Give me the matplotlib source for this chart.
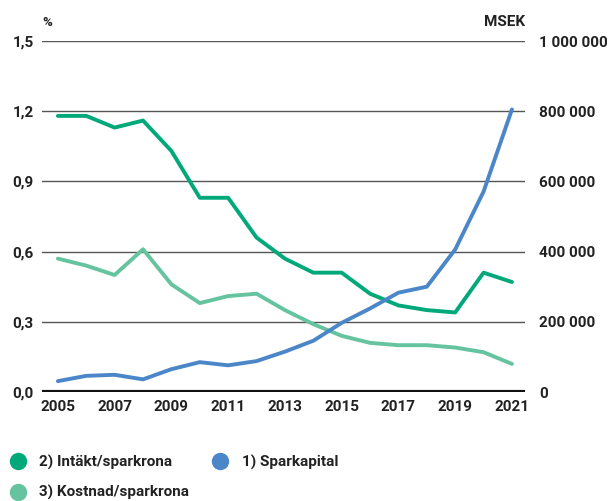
import numpy as np
import matplotlib.pyplot as plt
from matplotlib.lines import Line2D
from matplotlib.ticker import FuncFormatter

plt.rcParams['font.family'] = ['Roboto', 'DejaVu Sans']
plt.rcParams['font.weight'] = 'bold'

years = list(range(2005, 2022))
# 2) Intäkt/sparkrona (%)
intakt = [1.18, 1.18, 1.13, 1.16, 1.03, 0.83, 0.83, 0.66, 0.57, 0.51,
          0.51, 0.42, 0.37, 0.35, 0.34, 0.51, 0.47]
# 3) Kostnad/sparkrona (%)
kostnad = [0.57, 0.54, 0.50, 0.61, 0.46, 0.38, 0.41, 0.42, 0.35, 0.29,
           0.24, 0.21, 0.20, 0.20, 0.19, 0.17, 0.12]
# 1) Sparkapital (MSEK)
sparkapital = [31000, 46000, 49000, 36000, 65000, 85000, 76000, 88000, 115000,
               146000, 197000, 238000, 283000, 300000, 406000, 571000, 805000]

c_intakt = '#00a87a'
c_spar = '#4a86c8'
c_kost = '#66c3a0'
txt = '#222222'

fig = plt.figure(figsize=(6.08, 5.01), dpi=100)
ax = fig.add_axes([42 / 608, 109 / 501, 483 / 608, 351 / 501])
ax2 = ax.twinx()

for y in [0.3, 0.6, 0.9, 1.2, 1.5]:
    ax.axhline(y, color='#555555', lw=1.0, zorder=0)
ax.axhline(0, color='#111111', lw=3.0, zorder=5)

ax.plot(years, kostnad, color=c_kost, lw=2.8, solid_capstyle='round', zorder=3)
ax.plot(years, intakt, color=c_intakt, lw=2.8, solid_capstyle='round', zorder=4)
ax2.plot(years, sparkapital, color=c_spar, lw=2.8, solid_capstyle='round', zorder=3)

ax.set_xlim(2004.44, 2021.46)
ax.set_ylim(0, 1.5)
ax2.set_ylim(0, 1000000)
ax.set_yticks([0, 0.3, 0.6, 0.9, 1.2, 1.5])
ax.yaxis.set_major_formatter(FuncFormatter(lambda v, p: f'{v:.1f}'.replace('.', ',')))
ax2.set_yticks([0, 200000, 400000, 600000, 800000, 1000000])
ax2.yaxis.set_major_formatter(FuncFormatter(lambda v, p: f'{int(v):,}'.replace(',', ' ')))
ax.set_xticks(years[::2])

for a in (ax, ax2):
    for s in a.spines.values():
        s.set_visible(False)
    a.tick_params(length=0, labelsize=11, labelcolor=txt)
ax.tick_params(axis='y', pad=6)
ax2.tick_params(axis='y', pad=10)
ax.tick_params(axis='x', pad=6)

fig.text(47 / 608, 1 - 22 / 501, '%', fontsize=9.5, color=txt, ha='center', va='center')
fig.text(525 / 608, 1 - 22 / 501, 'MSEK', fontsize=11, color=txt, ha='right', va='center')

handles = [
    Line2D([], [], ls='none', marker='o', ms=11.5, color=c_intakt, label='2) Intäkt/sparkrona'),
    Line2D([], [], ls='none', marker='o', ms=11.5, color=c_kost, label='3) Kostnad/sparkrona'),
    Line2D([], [], ls='none', marker='o', ms=11.5, color=c_spar, label='1) Sparkapital'),
]
fig.legend(handles=handles, ncol=2, loc='upper left', bbox_to_anchor=(4 / 608, 1 - 449 / 501),
           frameon=False, fontsize=11, labelcolor=txt, handletextpad=0.9,
           labelspacing=1.0, columnspacing=1.55, handlelength=1.0, borderaxespad=0.0)

fig.savefig('out.png', dpi=100)
